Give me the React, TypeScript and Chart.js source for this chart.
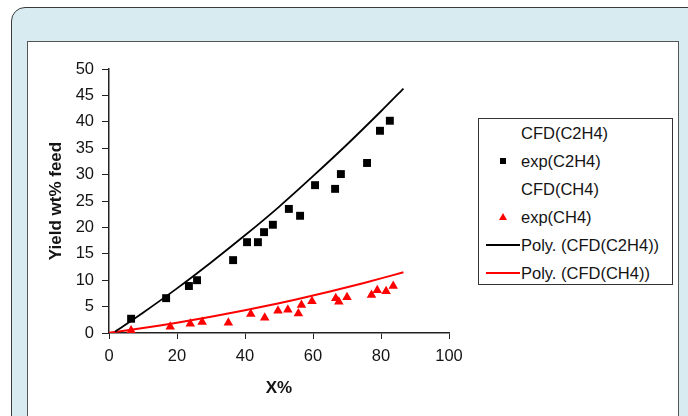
import React, { useEffect, useRef } from "react";
import { Chart, registerables } from "chart.js";

Chart.register(...registerables);

// ---- data ----
const expC2H4X = [6.5, 16.8, 23.5, 25.9, 36.5, 40.6, 43.8, 45.6, 48.2, 52.9, 56.2, 60.6, 66.5, 68.2, 75.9, 79.7, 82.6];
const expC2H4Y = [2.7, 6.6, 8.9, 10.0, 13.8, 17.2, 17.2, 19.1, 20.5, 23.5, 22.2, 28.0, 27.3, 30.1, 32.2, 38.3, 40.2];

const expCH4X = [6.5, 18.0, 23.9, 27.4, 35.1, 41.7, 45.8, 49.7, 52.6, 55.7, 56.6, 59.7, 66.7, 67.6, 70.0, 77.2, 78.9, 81.5, 83.6];
const expCH4Y = [0.45, 1.2, 1.75, 2.1, 1.95, 3.6, 2.9, 4.2, 4.4, 3.7, 5.3, 6.0, 6.6, 5.9, 6.75, 7.2, 8.1, 7.9, 8.9];

const cfdC2H4X = [1.8, 10, 20, 30, 40, 50, 60, 70, 80, 86.6];
const cfdC2H4Y = [0.25, 3.84, 8.45, 13.36, 18.5, 23.9, 29.7, 35.7, 42.0, 46.3];

const cfdCH4X = [0, 10, 20, 30, 40, 50, 60, 70, 80, 86.6];
const cfdCH4Y = [0.05, 0.95, 1.95, 3.08, 4.31, 5.65, 7.09, 8.65, 10.34, 11.5];

const xTickLabels = [0, 20, 40, 60, 80, 100];
const yTickLabels = [0, 5, 10, 15, 20, 25, 30, 35, 40, 45, 50];

const seriesLabels = [
  "CFD(C2H4)",
  "exp(C2H4)",
  "CFD(CH4)",
  "exp(CH4)",
  "Poly. (CFD(C2H4))",
  "Poly. (CFD(CH4))",
];

const FONT = "'Liberation Sans', Arial, sans-serif";
const TXT = "#141414";

const pts = (xs: number[], ys: number[]) => xs.map((x, i) => ({ x, y: ys[i] }));

type Marker = "none" | "square" | "triangle" | "lineBlack" | "lineRed";
const legendMarkers: Marker[] = ["none", "square", "none", "triangle", "lineBlack", "lineRed"];

function LegendMarker({ m }: { m: Marker }) {
  if (m === "square")
    return <div style={{ position: "absolute", left: 21, top: 7, width: 6, height: 6, background: "#000" }} />;
  if (m === "triangle")
    return (
      <div
        style={{
          position: "absolute",
          left: 20,
          top: 6,
          width: 0,
          height: 0,
          borderLeft: "4px solid transparent",
          borderRight: "4px solid transparent",
          borderBottom: "7px solid #ff0000",
        }}
      />
    );
  if (m === "lineBlack" || m === "lineRed")
    return (
      <div
        style={{
          position: "absolute",
          left: 7,
          top: 9,
          width: 34,
          height: 2,
          background: m === "lineBlack" ? "#000" : "#ff0000",
        }}
      />
    );
  return null;
}

export default function App() {
  const ref = useRef<HTMLCanvasElement | null>(null);

  useEffect(() => {
    if (!ref.current) return;
    const chart = new Chart(ref.current, {
      type: "scatter",
      data: {
        datasets: [
          {
            label: seriesLabels[0],
            data: pts(cfdC2H4X, cfdC2H4Y),
            pointRadius: 0,
            showLine: false,
          },
          {
            label: seriesLabels[1],
            data: pts(expC2H4X, expC2H4Y),
            pointStyle: "rect",
            pointRadius: 5.6,
            backgroundColor: "#000",
            borderColor: "#000",
            borderWidth: 0,
            showLine: false,
          },
          {
            label: seriesLabels[2],
            data: pts(cfdCH4X, cfdCH4Y),
            pointRadius: 0,
            showLine: false,
          },
          {
            label: seriesLabels[3],
            data: pts(expCH4X, expCH4Y),
            pointStyle: "triangle",
            pointRadius: 5.5,
            backgroundColor: "#ff0000",
            borderColor: "#ff0000",
            borderWidth: 0,
            showLine: false,
          },
          {
            label: seriesLabels[4],
            data: pts(cfdC2H4X, cfdC2H4Y),
            pointRadius: 0,
            showLine: true,
            borderColor: "#000",
            borderWidth: 1.8,
            tension: 0.3,
          },
          {
            label: seriesLabels[5],
            data: pts(cfdCH4X, cfdCH4Y),
            pointRadius: 0,
            showLine: true,
            borderColor: "#ff0000",
            borderWidth: 2,
            tension: 0.3,
          },
        ],
      },
      options: {
        animation: false,
        responsive: false,
        maintainAspectRatio: false,
        layout: { padding: { left: 0, top: 27, right: 229, bottom: 0 } },
        plugins: { legend: { display: false }, tooltip: { enabled: false } },
        scales: {
          x: {
            type: "linear",
            min: xTickLabels[0],
            max: xTickLabels[xTickLabels.length - 1],
            ticks: { stepSize: 20, padding: 8, color: TXT, font: { family: FONT, size: 16.5 } },
            grid: { drawOnChartArea: false, drawTicks: true, tickLength: 6, color: "#222", lineWidth: 1 },
            border: { display: true, color: "#222", width: 1.5 },
            title: {
              display: true,
              text: "X%",
              color: TXT,
              font: { family: FONT, size: 17, weight: "bold" },
              padding: { top: 0, bottom: 17 },
            },
            afterFit: (s: any) => {
              s.height = 83;
            },
          },
          y: {
            type: "linear",
            min: yTickLabels[0],
            max: yTickLabels[yTickLabels.length - 1],
            ticks: { stepSize: 5, padding: 8, color: TXT, font: { family: FONT, size: 16.5 } },
            grid: { drawOnChartArea: false, drawTicks: true, tickLength: 7, color: "#222", lineWidth: 1 },
            border: { display: true, color: "#222", width: 1.5 },
            title: {
              display: true,
              text: "Yield wt% feed",
              color: TXT,
              font: { family: FONT, size: 17, weight: "bold" },
              padding: { top: 18, bottom: 0 },
            },
            afterFit: (s: any) => {
              s.width = 81;
            },
          },
        },
      },
    } as any);
    return () => chart.destroy();
  }, []);

  return (
    <div
      style={{
        position: "fixed",
        left: 0,
        top: 0,
        width: 688,
        height: 416,
        overflow: "hidden",
        background: "#fff",
      }}
    >
      <div
        style={{
          position: "absolute",
          left: 11,
          top: 7,
          width: 720,
          height: 460,
          background: "#d8ebf1",
          border: "1.5px solid #3a3a3a",
          borderRadius: 14,
          boxSizing: "border-box",
        }}
      />
      <div
        style={{
          position: "absolute",
          left: 27,
          top: 41,
          width: 652,
          height: 420,
          background: "#fff",
          border: "1px solid #555",
          boxSizing: "border-box",
        }}
      />
      <canvas
        ref={ref}
        width={650}
        height={374}
        style={{ position: "absolute", left: 28, top: 42, width: 650, height: 374 }}
      />
      <div
        style={{
          position: "absolute",
          left: 478,
          top: 118,
          width: 195,
          height: 167,
          border: "1.5px solid #333",
          boxSizing: "border-box",
          background: "#fff",
          fontFamily: FONT,
          fontSize: 16.5,
          color: TXT,
        }}
      >
        {seriesLabels.map((label, i) => (
          <div
            key={label}
            style={{ position: "absolute", left: 0, top: 4 + i * 27.9, width: 190, height: 20 }}
          >
            <LegendMarker m={legendMarkers[i]} />
            <div style={{ position: "absolute", left: 42, top: 0, lineHeight: "20px", whiteSpace: "nowrap" }}>
              {label}
            </div>
          </div>
        ))}
      </div>
    </div>
  );
}
